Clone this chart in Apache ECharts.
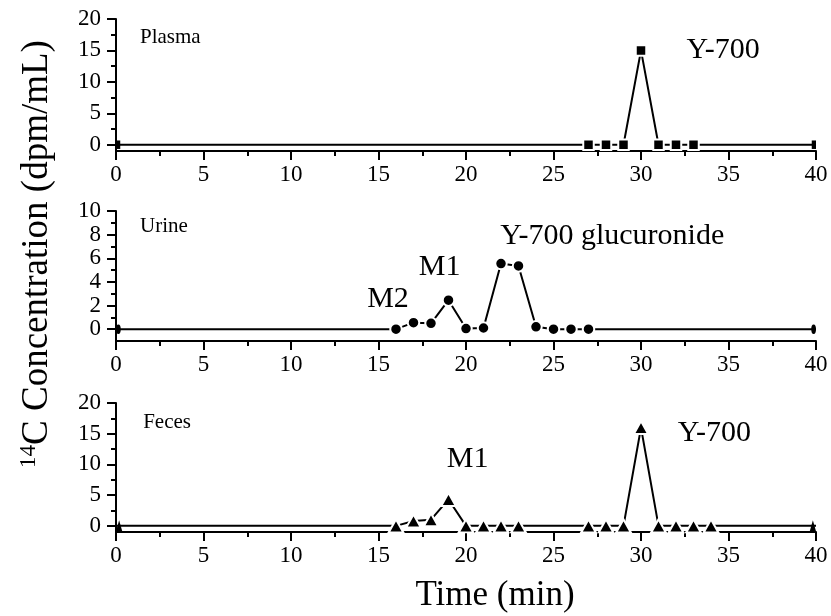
<!DOCTYPE html>
<html>
<head>
<meta charset="utf-8">
<script src="https://cdn.jsdelivr.net/npm/echarts@6/dist/echarts.min.js"></script>
<style>
  html, body { margin: 0; padding: 0; background: #fff; }
  #chart { width: 831px; height: 616px; }
</style>
</head>
<body>
<div id="chart"></div>
<script>
// Radio-HPLC profiles of 14C: time (min) vs concentration (dpm/mL)
const plasmaTime = [0, 27, 28, 29, 30, 31, 32, 33, 40];
const plasmaConc = [0, 0, 0, 0, 15, 0, 0, 0, 0];

const urineTime = [0, 16, 17, 18, 19, 20, 21, 22, 23, 24, 25, 26, 27, 40];
const urineConc = [0, 0, 0.55, 0.5, 2.45, 0.05, 0.1, 5.55, 5.35, 0.2, 0, 0, 0, 0];

const fecesTime = [0, 16, 17, 18, 19, 20, 21, 22, 23, 27, 28, 29, 30, 31, 32, 33, 34, 40];
const fecesConc = [0, 0, 0.8, 1.0, 4.3, 0, 0, 0, 0, 0, 0, 0, 16, 0, 0, 0, 0, 0];

const timeTicks = [0, 5, 10, 15, 20, 25, 30, 35, 40];
const plasmaTicks = [0, 5, 10, 15, 20];
const plasmaMinor = [2.5, 7.5, 12.5, 17.5];
const urineTicks = [0, 2, 4, 6, 8, 10];
const urineMinor = [1, 3, 5, 7, 9];
const fecesTicks = [0, 5, 10, 15, 20];
const fecesMinor = [2.5, 7.5, 12.5, 17.5];

// Text annotations, placed in data coordinates of each panel
const panelNames = ['Plasma', 'Urine', 'Feces'];
const peakLabels = [
  { panel: 0, text: 'Y-700', t: 32.6, v: 15.0 },
  { panel: 1, text: 'M2', t: 14.35, v: 2.55 },
  { panel: 1, text: 'M1', t: 17.3, v: 5.25 },
  { panel: 1, text: 'Y-700 glucuronide', t: 21.95, v: 7.9 },
  { panel: 2, text: 'M1', t: 18.9, v: 10.9 },
  { panel: 2, text: 'Y-700', t: 32.1, v: 15.1 }
];
const panelNamePos = [
  { t: 1.37, v: 17.1 },
  { t: 1.37, v: 8.65 },
  { t: 1.55, v: 16.9 }
];

const FONT = "'Liberation Serif', 'Times New Roman', serif";
const BLACK = '#000';

const panels = [
  { time: plasmaTime, conc: plasmaConc, ticks: plasmaTicks, minor: plasmaMinor, max: 20,
    symbol: 'rect', size: 10.5, top: 19, height: 132 },
  { time: urineTime, conc: urineConc, ticks: urineTicks, minor: urineMinor, max: 10,
    symbol: 'circle', size: 11.5, top: 211, height: 130 },
  { time: fecesTime, conc: fecesConc, ticks: fecesTicks, minor: fecesMinor, max: 20,
    symbol: 'triangle', size: [14.5, 13], top: 403, height: 129 }
];

const grids = [], xAxes = [], yAxes = [], series = [];

panels.forEach((p, i) => {
  grids.push({ left: 116, right: 15, top: p.top, height: p.height, containLabel: false });

  xAxes.push({
    gridIndex: i, type: 'value', min: 0, max: 40, interval: 5,
    axisLine: { onZero: false, lineStyle: { color: BLACK, width: 2 } },
    axisTick: { length: 9, lineStyle: { color: BLACK, width: 2 } },
    minorTick: { show: true, splitNumber: 2, length: 5, lineStyle: { color: BLACK, width: 2 } },
    axisLabel: { color: BLACK, fontFamily: FONT, fontSize: 23, margin: 12,
                 customValues: timeTicks },
    splitLine: { show: false }, minorSplitLine: { show: false }
  });

  // labelled major ticks
  yAxes.push({
    gridIndex: i, type: 'value', min: -1, max: p.max, position: 'left',
    axisLine: { show: true, onZero: false, lineStyle: { color: BLACK, width: 2 } },
    axisTick: { show: true, length: 9, customValues: p.ticks, lineStyle: { color: BLACK, width: 2 } },
    axisLabel: { color: BLACK, fontFamily: FONT, fontSize: 23, margin: 15, customValues: p.ticks },
    splitLine: { show: false }
  });
  // short unlabelled minor ticks
  yAxes.push({
    gridIndex: i, type: 'value', min: -1, max: p.max, position: 'left',
    axisLine: { show: false },
    axisTick: { show: true, length: 5, customValues: p.minor, lineStyle: { color: BLACK, width: 2 } },
    axisLabel: { show: false },
    splitLine: { show: false }
  });

  const sz = p.size;
  const data = p.time.map((t, k) => {
    const item = { value: [t, p.conc[k]] };
    if (t === 0 || t === 40) {
      // markers on the frame edge are cut by the plot boundary
      const w = Array.isArray(sz) ? sz[0] : sz;
      const h = Array.isArray(sz) ? sz[1] : sz;
      item.symbolSize = [w / 2 - 1, h - 2];
      item.symbolOffset = [t === 0 ? (w / 4) - 0.5 : -(w / 4) + 0.5, 0];
      item.itemStyle = { borderWidth: 0 };
    }
    return item;
  });

  series.push({
    type: 'line', xAxisIndex: i, yAxisIndex: i * 2,
    data: data, symbol: p.symbol, symbolSize: sz, showSymbol: true,
    lineStyle: { color: BLACK, width: 2 },
    itemStyle: { color: BLACK, borderColor: '#fff', borderWidth: 2 },
    emphasis: { disabled: true }, animation: false, clip: false, z: 3
  });
});

const chart = echarts.init(document.getElementById('chart'), null, { renderer: 'canvas' });
chart.setOption({
  backgroundColor: '#fff',
  animation: false,
  grid: grids, xAxis: xAxes, yAxis: yAxes, series: series
});

const graphics = [];

panelNames.forEach((name, i) => {
  const pos = chart.convertToPixel({ seriesIndex: i }, [panelNamePos[i].t, panelNamePos[i].v]);
  graphics.push({
    type: 'text', x: pos[0], y: pos[1],
    style: { text: name, fill: BLACK, font: `21px ${FONT}`, textAlign: 'left', textVerticalAlign: 'middle' }
  });
});

peakLabels.forEach(a => {
  const pos = chart.convertToPixel({ seriesIndex: a.panel }, [a.t, a.v]);
  graphics.push({
    type: 'text', x: pos[0], y: pos[1],
    style: { text: a.text, fill: BLACK, font: `30px ${FONT}`, textAlign: 'left', textVerticalAlign: 'middle' }
  });
});

// shared axis titles
graphics.push({
  type: 'text', x: 495, y: 596,
  style: { text: 'Time (min)', fill: BLACK, font: `35px ${FONT}`, textAlign: 'center', textVerticalAlign: 'middle' }
});
graphics.push({
  type: 'text', x: 37, y: 254, rotation: Math.PI / 2,
  style: {
    text: '{sup|14}{main|C Concentration (dpm/mL)}',
    textAlign: 'center', textVerticalAlign: 'middle', fill: BLACK,
    rich: {
      sup: { fontFamily: FONT, fontSize: 23, fill: BLACK, verticalAlign: 'top', lineHeight: 40 },
      main: { fontFamily: FONT, fontSize: 37, fill: BLACK, lineHeight: 40 }
    }
  }
});

chart.setOption({ graphic: graphics });
</script>
</body>
</html>
